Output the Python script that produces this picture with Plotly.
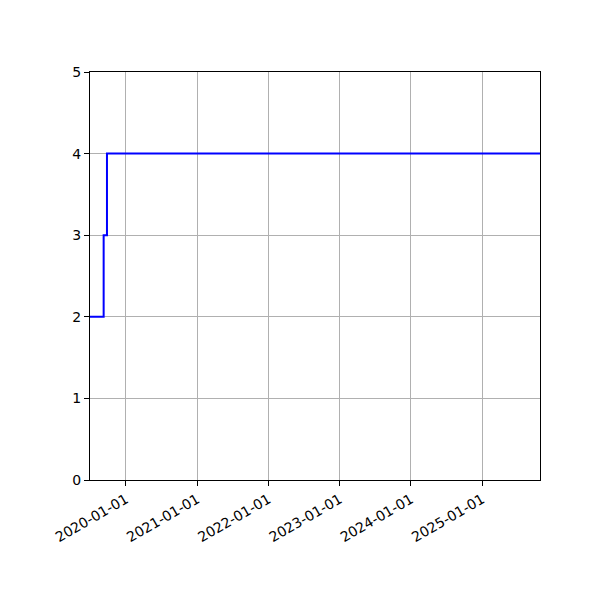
import plotly.graph_objects as go

# Step values over time
dates = ["2019-07-01", "2019-09-09", "2019-09-26", "2025-10-24"]
values = [2, 3, 4, 4]
year_ticks = ["2020-01-01", "2021-01-01", "2022-01-01",
              "2023-01-01", "2024-01-01", "2025-01-01"]

line = go.Scatter(x=dates, y=values, mode="lines", line_shape="hv",
                  line=dict(color="blue", width=2), showlegend=False)

axis_style = dict(showline=True, linecolor="black", linewidth=1, mirror=True,
                  ticks="outside", ticklen=5, tickcolor="black",
                  showgrid=True, gridcolor="#b0b0b0", gridwidth=1,
                  zeroline=False, tickfont=dict(size=14, color="black"))

fig = go.Figure(line)
# page body adds an 8px offset, so margins are shifted to compensate
fig.update_layout(width=600, height=600, plot_bgcolor="white", paper_bgcolor="white",
                  font=dict(family="DejaVu Sans", size=14, color="black"),
                  margin=dict(l=82, r=68, t=64, b=128))
fig.update_xaxes(range=[dates[0], dates[-1]], tickvals=year_ticks, ticktext=year_ticks,
                 tickangle=-30, **axis_style)
fig.update_yaxes(range=[0, 5], dtick=1, **axis_style)

fig.write_html("out.html")
